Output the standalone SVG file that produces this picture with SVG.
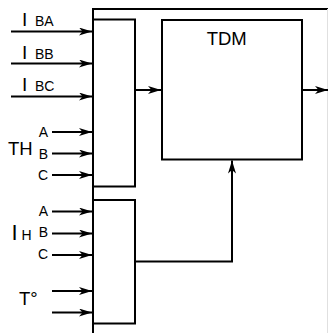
<svg xmlns="http://www.w3.org/2000/svg" width="328" height="333" viewBox="0 0 328 333">
<style>
.ln{stroke:#000;stroke-width:2;fill:none}
.ar{stroke:#000;stroke-width:2;fill:none;marker-end:url(#ah)}
text{font-family:"Liberation Sans",Arial,sans-serif;fill:#000}
.big{font-size:18.5px}
.sub{font-size:14px}
.abc{font-size:14px;text-anchor:end}
</style>
<defs>
<marker id="ah" markerUnits="userSpaceOnUse" markerWidth="16" markerHeight="10" refX="13" refY="4" orient="auto">
<path d="M0,0 L13,4 L0,8 L3.5,4 z" fill="#000"/>
</marker>
</defs>
<rect width="328" height="333" fill="#fff"/>
<g id="frame">
<line class="ln" x1="93" y1="8" x2="93" y2="333"/>
<line class="ln" x1="92" y1="9" x2="328" y2="9"/>
<line x1="327.5" y1="9" x2="327.5" y2="333" stroke="#e0e0e0" stroke-width="1"/>
</g>
<g id="mux1"><rect class="ln" x="93" y="19.5" width="42" height="167"/></g>
<g id="mux2"><rect class="ln" x="93" y="200" width="42" height="123.5"/></g>
<g id="tdm">
<rect class="ln" x="162" y="20" width="140" height="139.5"/>
<text class="big" x="226.7" y="45" text-anchor="middle">TDM</text>
</g>
<g id="labels">
<text class="big" x="22" y="25.5" style="font-size:19px">I</text><text class="sub" x="35" y="26">BA</text>
<text class="big" x="22" y="58.5" style="font-size:19px">I</text><text class="sub" x="35" y="58.5">BB</text>
<text class="big" x="22" y="91" style="font-size:19px">I</text><text class="sub" x="35" y="91">BC</text>
<text class="big" x="8" y="155">TH</text>
<text class="abc" x="48" y="136.5">A</text>
<text class="abc" x="48" y="158.5">B</text>
<text class="abc" x="48" y="180">C</text>
<text class="abc" x="48" y="215.5">A</text>
<text class="abc" x="48" y="237">B</text>
<text class="abc" x="48" y="259">C</text>
<text x="11.5" y="240" style="font-size:22px">I</text>
<text x="21.5" y="240" style="font-size:14px">H</text>
<text class="big" x="19" y="305">T°</text>
</g>
<g id="connectors">
<line class="ar" x1="11" y1="31.5" x2="92" y2="31.5"/>
<line class="ar" x1="11" y1="63.5" x2="92" y2="63.5"/>
<line class="ar" x1="11" y1="96.5" x2="92" y2="96.5"/>
<line class="ar" x1="52" y1="132" x2="92" y2="132"/>
<line class="ar" x1="52" y1="153.5" x2="92" y2="153.5"/>
<line class="ar" x1="52" y1="175" x2="92" y2="175"/>
<line class="ar" x1="52" y1="211.5" x2="92" y2="211.5"/>
<line class="ar" x1="52" y1="233.5" x2="92" y2="233.5"/>
<line class="ar" x1="52" y1="255" x2="92" y2="255"/>
<line class="ar" x1="52" y1="291" x2="92" y2="291"/>
<line class="ar" x1="52" y1="312.5" x2="92" y2="312.5"/>
<line class="ar" x1="135" y1="90" x2="161" y2="90"/>
<line class="ar" x1="302" y1="90" x2="328" y2="90"/>
<path class="ar" d="M135,261.5 H232 V160.5"/>
</g>
</svg>
